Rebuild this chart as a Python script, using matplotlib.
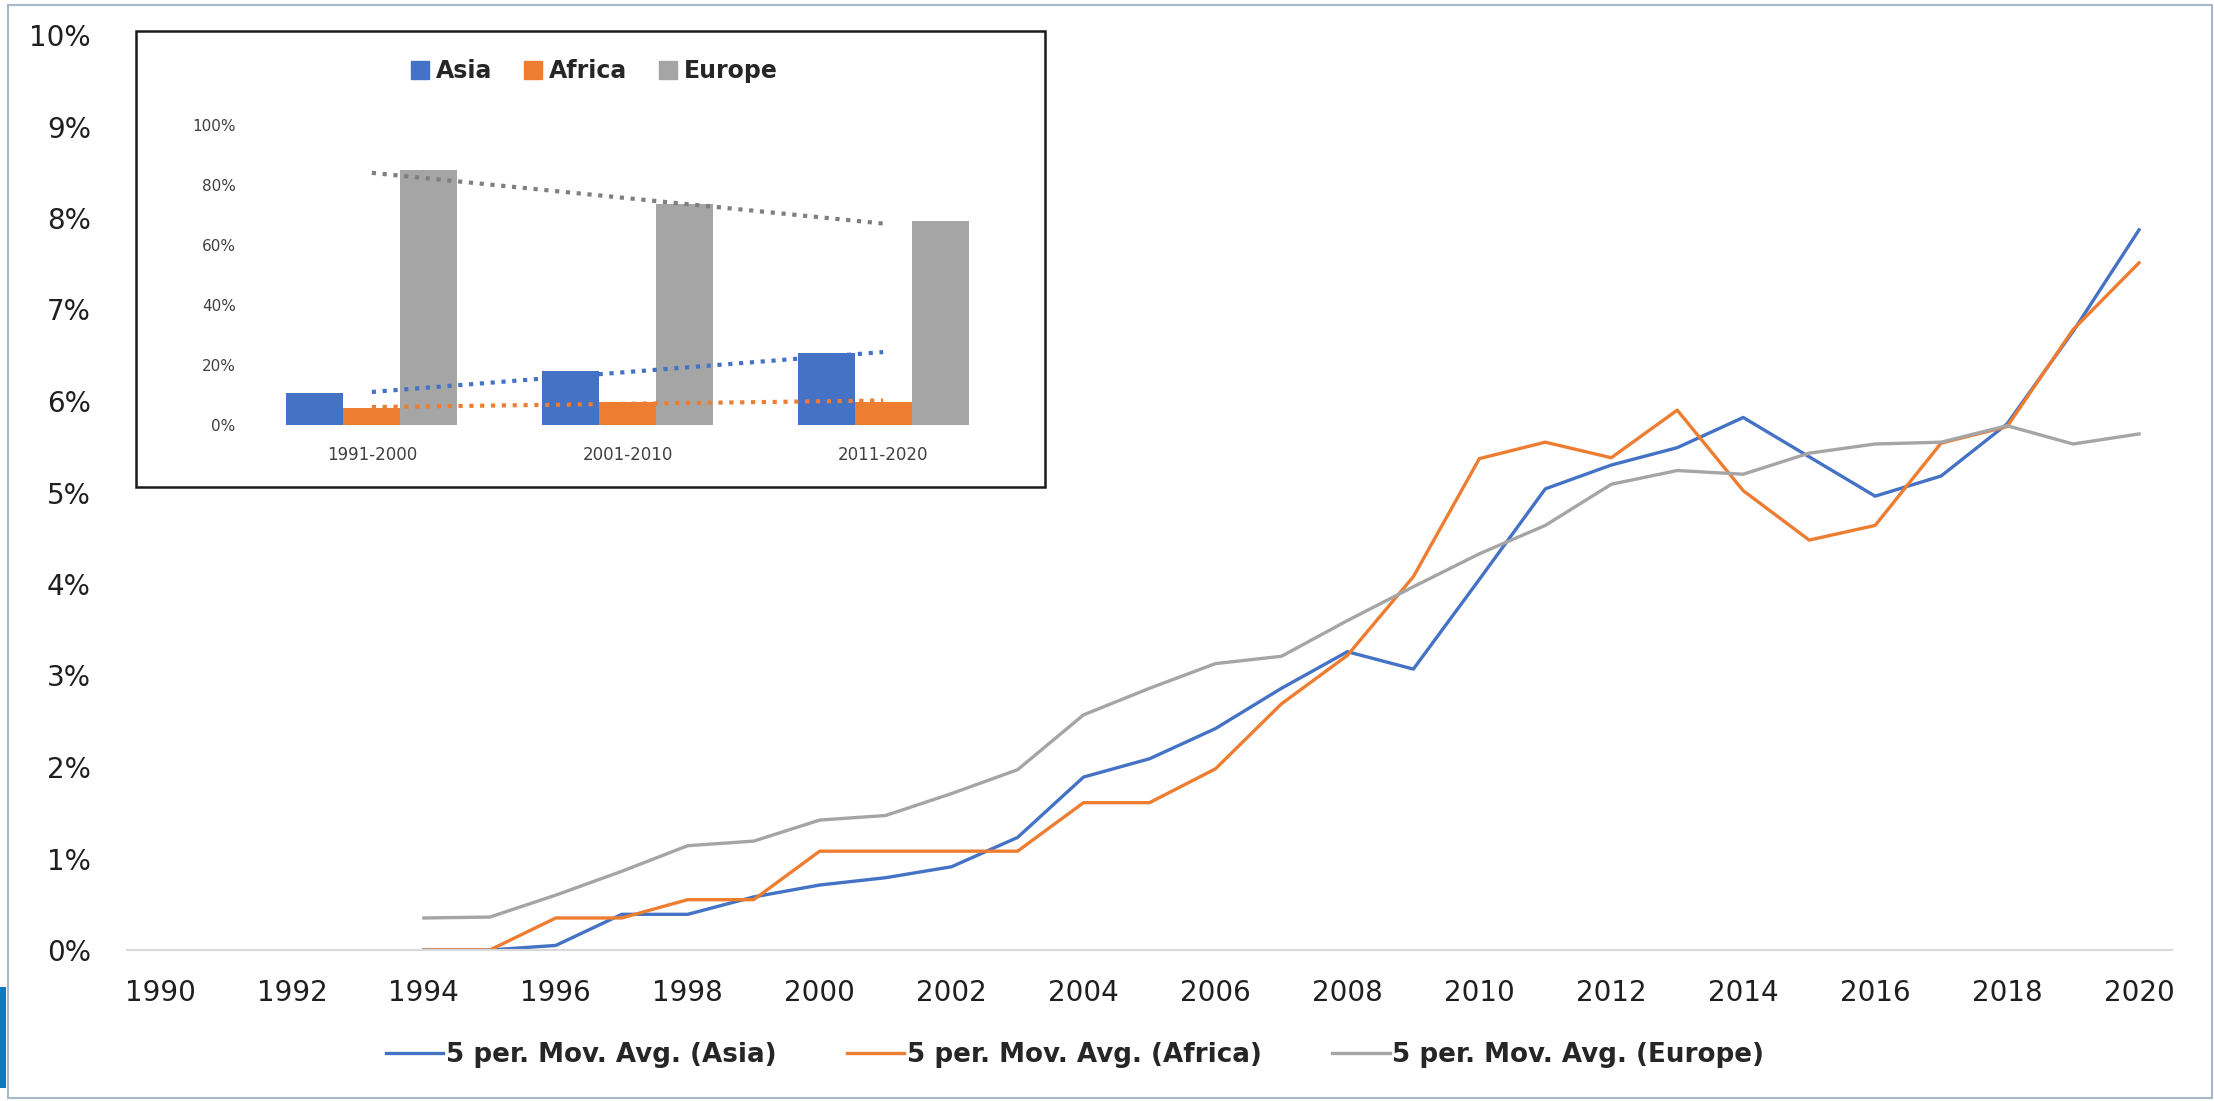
import matplotlib
matplotlib.use("Agg")
import matplotlib.pyplot as plt
from matplotlib.ticker import PercentFormatter
from matplotlib.patches import Rectangle
from matplotlib.lines import Line2D
import numpy as np

# 5 period moving averages, in percent
years = list(range(1994, 2021))
asia = [0, 0, 0.05, 0.39, 0.39, 0.58, 0.71, 0.79, 0.91, 1.23, 1.89, 2.09, 2.42, 2.86,
        3.26, 3.07, 4.05, 5.04, 5.30, 5.49, 5.82, 5.39, 4.96, 5.18, 5.75, 6.76, 7.87]
africa = [0, 0, 0.35, 0.35, 0.55, 0.55, 1.08, 1.08, 1.08, 1.08, 1.61, 1.61, 1.98, 2.69,
          3.22, 4.08, 5.37, 5.55, 5.38, 5.90, 5.02, 4.48, 4.64, 5.54, 5.72, 6.78, 7.51]
europe = [0.35, 0.36, 0.60, 0.86, 1.14, 1.19, 1.42, 1.47, 1.71, 1.97, 2.57, 2.86, 3.13, 3.21,
          3.60, 3.97, 4.33, 4.64, 5.09, 5.24, 5.20, 5.43, 5.53, 5.55, 5.73, 5.53, 5.64]
xticks = list(range(1990, 2021, 2))

# inset: shares by decade, in percent
decades = ['1991-2000', '2001-2010', '2011-2020']
share_asia = [10.8, 18.1, 24.1]
share_africa = [5.6, 7.8, 7.8]
share_europe = [85.0, 73.7, 68.1]

blue = '#4472C4'
orange = '#ED7D31'
gray = '#A5A5A5'

W, H = 2214, 1101
fig = plt.figure(figsize=(W / 100, H / 100), dpi=100)

# main chart
ax = fig.add_axes([127 / W, 1 - 950 / H, 2045 / W, 915 / H])
l1, = ax.plot(years, asia, color=blue, lw=2.4)
l2, = ax.plot(years, africa, color=orange, lw=2.4)
l3, = ax.plot(years, europe, color=gray, lw=2.4)
ax.set_xlim(1989.5, 2020.5)
ax.set_ylim(0, 10)
ax.set_xticks(xticks)
ax.set_yticks(range(0, 11))
ax.yaxis.set_major_formatter(PercentFormatter(100, decimals=0))
for s in ['top', 'right', 'left']:
    ax.spines[s].set_visible(False)
ax.spines['bottom'].set_color('#D9D9D9')
ax.spines['bottom'].set_linewidth(1.5)
ax.tick_params(axis='both', length=0, labelsize=20, colors='#1f1f1f')
ax.tick_params(axis='x', pad=21)
ax.tick_params(axis='y', pad=26)

fig.legend([l1, l2, l3],
           ['5 per. Mov. Avg. (Asia)', '5 per. Mov. Avg. (Africa)', '5 per. Mov. Avg. (Europe)'],
           loc='center', bbox_to_anchor=(1075 / W, 1 - 1055 / H), ncol=3, frameon=False,
           prop={'size': 18.8, 'weight': 'bold'}, handlelength=2.2, handletextpad=0.1,
           columnspacing=2.7, labelcolor='#262626')

# inset box
fig.patches.append(Rectangle((136 / W, 1 - 487 / H), 909 / W, 456 / H,
                             transform=fig.transFigure, facecolor='white',
                             edgecolor='#1a1a1a', lw=1.8, zorder=2))

ins = fig.add_axes([244 / W, 1 - 425 / H, 767 / W, 300 / H], zorder=3)
ins.patch.set_alpha(0)
x = np.arange(len(decades))
bw = 0.223
ins.bar(x - bw, share_asia, bw, color=blue, label='Asia')
ins.bar(x, share_africa, bw, color=orange, label='Africa')
ins.bar(x + bw, share_europe, bw, color=gray, label='Europe')

# linear trendlines
for vals, c in [(share_asia, blue), (share_africa, orange), (share_europe, '#7F7F7F')]:
    k, b = np.polyfit(x, vals, 1)
    ins.plot([0, 2], [b, 2 * k + b], color=c, lw=3, linestyle=(0, (1, 1.6)))

ins.set_xlim(-0.5, 2.5)
ins.set_ylim(0, 100)
ins.set_xticks(x)
ins.set_xticklabels(decades)
ins.set_yticks(range(0, 101, 20))
ins.yaxis.set_major_formatter(PercentFormatter(100, decimals=0))
for s in ins.spines.values():
    s.set_visible(False)
ins.tick_params(axis='both', length=0, colors='#404040')
ins.tick_params(axis='x', labelsize=12, pad=15)
ins.tick_params(axis='y', labelsize=11, pad=6)

hs = [Line2D([], [], marker='s', ms=13, lw=0, color=c) for c in [blue, orange, gray]]
fig.legend(hs, ['Asia', 'Africa', 'Europe'], loc='center',
           bbox_to_anchor=(594 / W, 1 - 71 / H), ncol=3, frameon=False,
           prop={'size': 17, 'weight': 'bold'}, handlelength=0.8, handletextpad=0.3,
           columnspacing=1.3, labelcolor='#262626')

# screenshot frame
frame = '#A9B8C8'
fig.patches.append(Rectangle((8 / W, 3 / H), (2212 - 8) / W, (1096 - 3) / H,
                             transform=fig.transFigure, fill=False, edgecolor=frame, lw=1.5, zorder=0))
fig.patches.append(Rectangle((0, 1 - 1088 / H), 6 / W, 101 / H,
                             transform=fig.transFigure, facecolor='#0A7CC2', lw=0, zorder=0))

fig.savefig('out.png', dpi=100)
